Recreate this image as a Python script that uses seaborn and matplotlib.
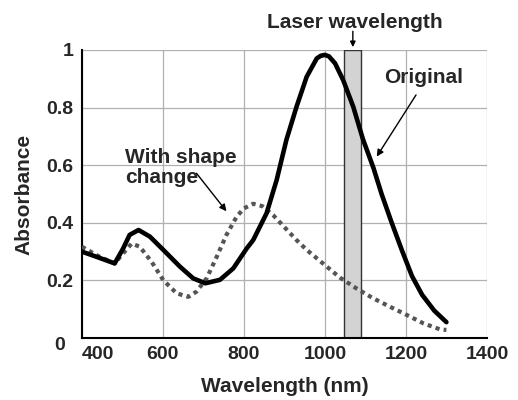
import matplotlib
matplotlib.use("Agg")
import matplotlib.pyplot as plt
import matplotlib.transforms as mtransforms
import seaborn as sns
import pandas as pd

# Data
wl_orig = [400, 440, 481, 502, 518, 540, 568, 601, 642, 675, 705, 741, 774, 807, 823,
           856, 881, 905, 930, 955, 980, 990, 1000, 1010, 1025, 1045, 1070, 1094, 1120,
           1140, 1165, 1190, 1215, 1240, 1270, 1300]
abs_orig = [0.300, 0.280, 0.259, 0.311, 0.358, 0.375, 0.352, 0.306, 0.248, 0.207, 0.190,
            0.202, 0.242, 0.311, 0.340, 0.433, 0.549, 0.688, 0.803, 0.907, 0.971, 0.980,
            0.983, 0.978, 0.954, 0.896, 0.803, 0.690, 0.590, 0.500, 0.400, 0.305, 0.215,
            0.150, 0.095, 0.055]
wl_shape = [400, 444, 481, 502, 523, 543, 572, 601, 634, 663, 683, 708, 733, 757, 782,
            800, 823, 845, 872, 900, 930, 955, 996, 1037, 1078, 1119, 1160, 1202, 1243,
            1284, 1300]
abs_shape = [0.317, 0.282, 0.259, 0.294, 0.328, 0.317, 0.265, 0.201, 0.155, 0.143, 0.161,
             0.207, 0.282, 0.358, 0.421, 0.450, 0.466, 0.458, 0.427, 0.385, 0.340, 0.306,
             0.258, 0.210, 0.172, 0.138, 0.109, 0.080, 0.051, 0.030, 0.028]
laser_band = [1048, 1088]
x_ticks = [400, 600, 800, 1000, 1200, 1400]
x_ticklabels = ["400", "600", "800", "1000", "1200", "1400"]
y_ticks = [0, 0.2, 0.4, 0.6, 0.8, 1]
y_ticklabels = ["0", "0.2", "0.4", "0.6", "0.8", "1"]

sns.set_style("white")
plt.rcParams['font.family'] = ['Liberation Sans', 'DejaVu Sans']
plt.rcParams['font.weight'] = 'bold'

fig = plt.figure(figsize=(5.18, 4.0), dpi=100)
ax = fig.add_axes([0.158, 0.155, 0.782, 0.72])

df_o = pd.DataFrame({"Wavelength": wl_orig, "Absorbance": abs_orig})
df_s = pd.DataFrame({"Wavelength": wl_shape, "Absorbance": abs_shape})

ax.axvspan(laser_band[0], laser_band[1], ymin=0, ymax=1, facecolor="#d3d3d3",
           edgecolor="#333333", linewidth=1.0, zorder=1)

sns.lineplot(data=df_s, x="Wavelength", y="Absorbance", ax=ax, color="#555555",
             linewidth=3.0, linestyle=(0, (1.0, 1.0)), zorder=3)
sns.lineplot(data=df_o, x="Wavelength", y="Absorbance", ax=ax, color="black",
             linewidth=3.3, zorder=4)

ax.set_xlim(400, 1400)
ax.set_ylim(0, 1)
ax.set_xticks(x_ticks)
ax.set_xticklabels(x_ticklabels)
ax.set_yticks(y_ticks)
ax.set_yticklabels([""] + y_ticklabels[1:])
ax.grid(True, color="#b0b0b0", linewidth=0.9)
ax.set_axisbelow(True)
for s in ["top", "right"]:
    ax.spines[s].set_visible(False)
for s in ["left", "bottom"]:
    ax.spines[s].set_color("black")
    ax.spines[s].set_linewidth(1.5)
ax.tick_params(axis="both", direction="in", length=3.5, width=1, labelsize=14,
               pad=6, color="black")
for lbl in ax.get_xticklabels() + ax.get_yticklabels():
    lbl.set_fontweight("bold")
ax.get_xticklabels()[0].set_horizontalalignment("left")

zero_tr = mtransforms.offset_copy(ax.transAxes, fig=fig, x=-17, y=-7, units="dots")
ax.text(0, 0, y_ticklabels[0], transform=zero_tr, ha="right", va="center",
        fontsize=14, fontweight="bold")

ax.set_xlabel("Wavelength (nm)", fontsize=15, fontweight="bold", labelpad=10)
ax.set_ylabel("Absorbance", fontsize=15, fontweight="bold", labelpad=9)

ax.text(1073, 1.097, "Laser wavelength", ha="center", va="center", fontsize=15,
        fontweight="bold", clip_on=False)
ax.annotate("", xy=(1069, 1.01), xytext=(1069, 1.065), annotation_clip=False,
            arrowprops=dict(arrowstyle="-|>", color="black", lw=1, mutation_scale=8,
                            shrinkA=0, shrinkB=0))

ax.text(1244, 0.906, "Original", ha="center", va="center", fontsize=15, fontweight="bold")
ax.annotate("", xy=(1128, 0.63), xytext=(1225, 0.844),
            arrowprops=dict(arrowstyle="-|>", color="black", lw=1, mutation_scale=10,
                            shrinkA=0, shrinkB=0))

ax.text(506, 0.592, "With shape\nchange", ha="left", va="center", fontsize=15,
        fontweight="bold", linespacing=1.1)
ax.annotate("", xy=(757, 0.44), xytext=(683, 0.572),
            arrowprops=dict(arrowstyle="-|>", color="black", lw=1, mutation_scale=10,
                            shrinkA=0, shrinkB=0))

fig.savefig("out.png", dpi=100)
